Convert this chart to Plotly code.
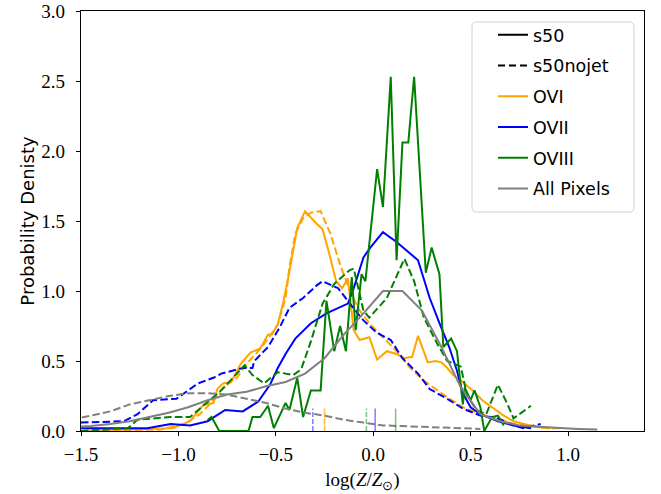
import plotly.graph_objects as go

# ---------------- data ----------------
OVI_s50_x = [-1.5, -1.03, -0.94, -0.90, -0.87, -0.82, -0.80, -0.77, -0.73, -0.68, -0.63, -0.58, -0.54, -0.52,
             -0.49, -0.46, -0.43, -0.39, -0.35, -0.29, -0.26, -0.23, -0.19, -0.16, -0.13, -0.10, -0.07, -0.02,
             0.02, 0.07, 0.12, 0.16, 0.20, 0.23, 0.28, 0.32, 0.35, 0.38, 0.41, 0.46, 0.51, 0.56, 0.62, 0.67,
             0.72, 0.77, 0.83, 0.91]
OVI_s50_y = [0.0, 0.02, 0.07, 0.14, 0.19, 0.2, 0.3, 0.34, 0.35, 0.48, 0.56, 0.59, 0.69, 0.69,
             0.76, 0.93, 1.14, 1.45, 1.57, 1.48, 1.44, 1.29, 1.07, 1.02, 1.09, 0.72, 0.65, 0.67,
             0.51, 0.57, 0.55, 0.52, 0.53, 0.68, 0.49, 0.50, 0.49, 0.45, 0.40, 0.35, 0.29, 0.22, 0.16, 0.11,
             0.07, 0.05, 0.03, 0.02]

OVI_nojet_x = [-1.5, -1.09, -0.97, -0.89, -0.84, -0.77, -0.70, -0.65, -0.59, -0.54, -0.49, -0.45, -0.43,
               -0.40, -0.36, -0.32, -0.27, -0.22, -0.17, -0.12, -0.07, -0.02, 0.05, 0.12, 0.19, 0.26, 0.33,
               0.38, 0.46, 0.55, 0.64, 0.72, 0.81, 0.89, 0.97]
OVI_nojet_y = [0.0, 0.01, 0.05, 0.12, 0.19, 0.31, 0.38, 0.48, 0.57, 0.66, 0.76, 0.95, 1.17,
               1.41, 1.52, 1.56, 1.57, 1.41, 1.19, 1.0, 0.86, 0.77, 0.67, 0.57, 0.45, 0.36, 0.29,
               0.24, 0.17, 0.12, 0.09, 0.05, 0.04, 0.02, 0.02]

OVII_s50_x = [-1.5, -1.26, -1.16, -1.04, -0.94, -0.85, -0.76, -0.67, -0.59, -0.53, -0.49, -0.45, -0.40,
              -0.32, -0.24, -0.13, -0.10, -0.05, -0.015, 0.05, 0.12, 0.23, 0.29, 0.34, 0.39, 0.43, 0.46,
              0.50, 0.55, 0.64, 0.72, 0.81]
OVII_s50_y = [0.02, 0.02, 0.02, 0.05, 0.04, 0.07, 0.15, 0.14, 0.21, 0.33, 0.45, 0.55, 0.66,
              0.77, 0.84, 0.91, 1.02, 1.24, 1.31, 1.42, 1.35, 1.22, 0.95, 0.77, 0.60, 0.43, 0.27,
              0.17, 0.12, 0.07, 0.04, 0.02]

OVII_nojet_x = [-1.5, -1.28, -1.21, -1.13, -1.01, -0.90, -0.82, -0.78, -0.67, -0.62, -0.61, -0.54, -0.48,
                -0.43, -0.36, -0.29, -0.26, -0.18, -0.12, -0.05, 0.02, 0.09, 0.15, 0.23, 0.29, 0.38, 0.46,
                0.55, 0.64, 0.72, 0.77, 0.86]
OVII_nojet_y = [0.06, 0.07, 0.12, 0.22, 0.23, 0.34, 0.38, 0.41, 0.45, 0.45, 0.50, 0.60, 0.74,
                0.88, 0.95, 1.04, 1.07, 1.02, 0.91, 0.79, 0.70, 0.65, 0.52, 0.41, 0.30, 0.23, 0.16,
                0.11, 0.09, 0.04, 0.02, 0.05]

OVIII_s50_x = [-0.85, -0.83, -0.79, -0.64, -0.62, -0.58, -0.54, -0.51, -0.45, -0.43, -0.39, -0.36, -0.32,
               -0.27, -0.24, -0.20, -0.17, -0.14, -0.11, -0.09, -0.06, -0.04, 0.02, 0.05, 0.09, 0.12, 0.15,
               0.18, 0.21, 0.27, 0.30, 0.34, 0.36, 0.40, 0.43, 0.46, 0.47, 0.50, 0.52, 0.55, 0.57, 0.61,
               0.64, 0.67]
OVIII_s50_y = [0.08, 0.10, 0.0, 0.0, 0.10, 0.10, 0.18, 0.02, 0.20, 0.15, 0.38, 0.10, 0.29,
               0.29, 0.93, 0.57, 0.75, 0.57, 1.10, 0.72, 1.12, 1.07, 1.87, 1.60, 2.53, 1.22, 2.06,
               2.06, 2.53, 1.13, 1.31, 1.12, 0.60, 0.66, 0.57, 0.19, 0.31, 0.22, 0.29, 0.17, 0.0, 0.10,
               0.11, 0.04]

OVIII_nojet_x = [-1.5, -1.26, -1.21, -1.04, -0.94, -0.85, -0.78, -0.70, -0.66, -0.62, -0.56, -0.49, -0.41,
                 -0.37, -0.32, -0.26, -0.20, -0.12, -0.10, -0.05, -0.02, 0.07, 0.12, 0.16, 0.21, 0.26, 0.33,
                 0.38, 0.45, 0.48, 0.53, 0.58, 0.64, 0.69, 0.72, 0.76, 0.81]
OVIII_nojet_y = [0.0, 0.02, 0.08, 0.10, 0.10, 0.21, 0.29, 0.41, 0.47, 0.40, 0.34, 0.42, 0.40,
                 0.44, 0.64, 0.91, 1.05, 1.15, 1.16, 0.86, 0.81, 0.95, 1.10, 1.23, 1.07, 0.81, 0.62,
                 0.50, 0.46, 0.26, 0.15, 0.12, 0.33, 0.19, 0.09, 0.13, 0.18]

ALL_s50_x = [-1.55, -1.45, -1.35, -1.25, -1.15, -1.05, -0.95, -0.85, -0.75, -0.65, -0.55, -0.45, -0.35, -0.25,
             -0.15, -0.05, 0.05, 0.15, 0.25, 0.35, 0.45, 0.55, 0.65, 0.75, 0.85, 0.95, 1.05, 1.15]
ALL_s50_y = [0.03, 0.035, 0.05, 0.07, 0.10, 0.13, 0.17, 0.22, 0.26, 0.28, 0.32, 0.35, 0.41, 0.52,
             0.69, 0.84, 1.0, 1.0, 0.86, 0.60, 0.31, 0.12, 0.07, 0.04, 0.03, 0.02, 0.015, 0.01]

ALL_nojet_x = [-1.55, -1.45, -1.35, -1.25, -1.15, -1.05, -0.95, -0.85, -0.75, -0.65, -0.55, -0.45, -0.35,
               -0.25, -0.15, -0.05, 0.05, 0.15, 0.25, 0.35, 0.45, 0.55]
ALL_nojet_y = [0.08, 0.11, 0.14, 0.19, 0.22, 0.25, 0.27, 0.27, 0.26, 0.23, 0.20, 0.16, 0.13,
               0.11, 0.08, 0.06, 0.04, 0.035, 0.03, 0.02, 0.02, 0.015]

# median markers (short vertical ticks at the bottom)
ions = ["OVI", "OVII", "OVIII"]
median_s50 = [-0.25, 0.01, 0.115]
median_nojet = [-0.25, -0.31, -0.035]
marker_height = 0.16

colors = {"OVI": "orange", "OVII": "blue", "OVIII": "green", "All Pixels": "gray"}
legend_labels = ["s50", "s50nojet", "OVI", "OVII", "OVIII", "All Pixels"]
xticks = [-1.5, -1.0, -0.5, 0.0, 0.5, 1.0]
yticks = [0.0, 0.5, 1.0, 1.5, 2.0, 2.5, 3.0]

DASH = "7.5px,3.3px"
LW = 2

series = [
    ("OVI", OVI_s50_x, OVI_s50_y, "solid"),
    ("OVI", OVI_nojet_x, OVI_nojet_y, DASH),
    ("OVII", OVII_s50_x, OVII_s50_y, "solid"),
    ("OVII", OVII_nojet_x, OVII_nojet_y, DASH),
    ("OVIII", OVIII_s50_x, OVIII_s50_y, "solid"),
    ("OVIII", OVIII_nojet_x, OVIII_nojet_y, DASH),
    ("All Pixels", ALL_s50_x, ALL_s50_y, "solid"),
    ("All Pixels", ALL_nojet_x, ALL_nojet_y, DASH),
]

fig = go.Figure()
for name, xs, ys, dash in series:
    assert len(xs) == len(ys), name
    fig.add_trace(go.Scatter(x=xs, y=ys, mode="lines", showlegend=False, hoverinfo="skip",
                             line=dict(color=colors[name], width=LW, dash=dash)))

for ion, m1, m2 in zip(ions, median_s50, median_nojet):
    fig.add_trace(go.Scatter(x=[m2, m2], y=[0, marker_height], mode="lines", showlegend=False,
                             opacity=0.5, line=dict(color=colors[ion], width=1.5, dash="5px,2px")))
    fig.add_trace(go.Scatter(x=[m1, m1], y=[0, marker_height], mode="lines", showlegend=False,
                             opacity=0.5, line=dict(color=colors[ion], width=1.5)))

# legend-only entries
legend_styles = [("black", "solid"), ("black", "7px,4px"), (colors["OVI"], "solid"),
                 (colors["OVII"], "solid"), (colors["OVIII"], "solid"), (colors["All Pixels"], "solid")]
for i, (lab, (c, d)) in enumerate(zip(legend_labels, legend_styles)):
    fig.add_trace(go.Scatter(x=[None], y=[None], mode="lines", name=lab, legendgroup=f"g{i}",
                             line=dict(color=c, width=2, dash=d)))

# legend frame (rounded, light gray) in paper coordinates
bx0, bx1, by0, by1 = 0.6945, 0.9822, 0.5214, 0.9738
rx, ry = 0.008, 0.011
frame_path = (f"M{bx0+rx},{by0} L{bx1-rx},{by0} Q{bx1},{by0} {bx1},{by0+ry} "
              f"L{bx1},{by1-ry} Q{bx1},{by1} {bx1-rx},{by1} L{bx0+rx},{by1} "
              f"Q{bx0},{by1} {bx0},{by1-ry} L{bx0},{by0+ry} Q{bx0},{by0} {bx0+rx},{by0} Z")

tick_font = dict(family="Liberation Serif", size=19, color="black")
fig.update_layout(
    width=661, height=494,
    margin=dict(l=81, r=17, t=11, b=63, autoexpand=False),
    paper_bgcolor="white", plot_bgcolor="white",
    shapes=[dict(type="path", xref="paper", yref="paper", path=frame_path,
                 line=dict(color="#d0d0d0", width=1), fillcolor="rgba(255,255,255,0.8)", layer="above")],
    legend=dict(x=0.7318, y=0.986, xanchor="left", yanchor="top",
                borderwidth=0, bgcolor="rgba(0,0,0,0)",
                font=dict(family="DejaVu Sans", size=17.5, color="black"),
                tracegroupgap=5, itemwidth=30),
    xaxis=dict(range=[-1.5, 1.39], tickvals=xticks, automargin=False,
               ticktext=[f"{v:.1f}".replace("-", "\u2212") for v in xticks],
               ticks="outside", ticklen=4, tickwidth=1, tickcolor="black", ticklabelstandoff=2,
               showline=True, linecolor="black", linewidth=1.2, mirror=True,
               showgrid=False, zeroline=False, tickfont=tick_font,
               title=dict(text="log(<i>Z</i>/<i>Z</i><sub>⊙</sub>)",
                          font=dict(family="Liberation Serif", size=19, color="black"), standoff=8)),
    yaxis=dict(range=[0, 3.0], tickvals=yticks, automargin=False,
               ticktext=[f"{v:.1f}" for v in yticks],
               ticks="outside", ticklen=4, tickwidth=1, tickcolor="black", ticklabelstandoff=7,
               showline=True, linecolor="black", linewidth=1.2, mirror=True,
               showgrid=False, zeroline=False, tickfont=tick_font,
               title=dict(text="Probability Denisty",
                          font=dict(family="DejaVu Sans", size=18, color="black"), standoff=2)),
)

fig.write_html("out.html")
